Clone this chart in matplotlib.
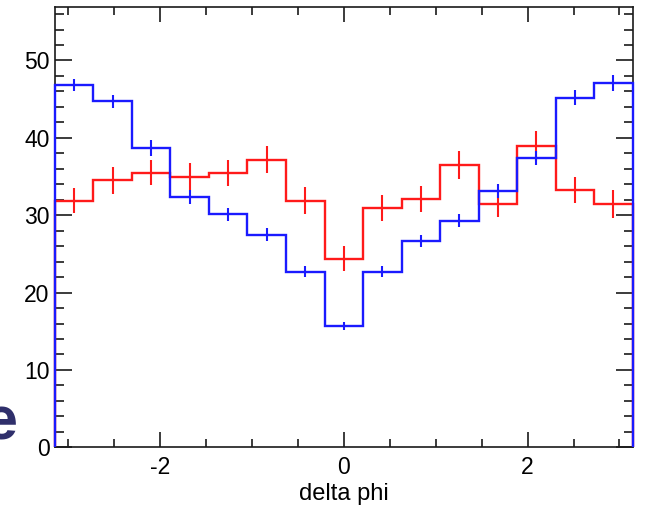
import numpy as np
import matplotlib
matplotlib.use('Agg')
import matplotlib.pyplot as plt
from matplotlib.ticker import MultipleLocator

# 15 bins from -pi to pi
edges = np.linspace(-np.pi, np.pi, 16)
centers = 0.5 * (edges[:-1] + edges[1:])

blue_vals = [46.8, 44.7, 38.7, 32.3, 30.1, 27.5, 22.7, 15.7, 22.7, 26.7, 29.3, 33.1, 37.4, 45.2, 47.1]
blue_err = [0.8, 0.8, 1.0, 0.9, 0.8, 0.8, 0.75, 0.55, 0.75, 0.8, 0.8, 0.9, 0.9, 1.0, 1.0]
red_vals = [31.9, 34.5, 35.5, 35.0, 35.5, 37.2, 31.9, 24.4, 30.9, 32.1, 36.5, 31.4, 38.9, 33.3, 31.4]
red_err = [1.65, 1.7, 1.65, 1.7, 1.7, 1.8, 1.7, 1.6, 1.7, 1.7, 1.8, 1.6, 1.95, 1.7, 1.8]

plt.rcParams['font.family'] = ['Liberation Sans', 'DejaVu Sans']
plt.rcParams['axes.unicode_minus'] = False

fig = plt.figure(figsize=(6.47, 5.08), dpi=100)
ax = fig.add_axes([0.085, 0.1195, 0.8926, 0.8665])

ax.stairs(red_vals, edges, baseline=0, color='#ff1a1a', lw=1.7, zorder=3, clip_on=False)
ax.errorbar(centers, red_vals, yerr=red_err, fmt='none', ecolor='#ff1a1a', elinewidth=1.5, capsize=0, zorder=3)
ax.stairs(blue_vals, edges, baseline=0, color='#1a1aff', lw=1.7, zorder=4, clip_on=False)
ax.errorbar(centers, blue_vals, yerr=blue_err, fmt='none', ecolor='#1a1aff', elinewidth=1.5, capsize=0, zorder=4)

ax.set_xlim(-np.pi, np.pi)
ax.set_ylim(0, 56.9)
ax.xaxis.set_major_locator(MultipleLocator(2))
ax.xaxis.set_minor_locator(MultipleLocator(0.5))
ax.yaxis.set_major_locator(MultipleLocator(10))
ax.yaxis.set_minor_locator(MultipleLocator(2))

ax.tick_params(axis='both', which='both', direction='in', top=True, right=True, width=1.2, color='#1a1a1a')
ax.tick_params(axis='x', which='major', length=11, pad=6, labelsize=16.5)
ax.tick_params(axis='x', which='minor', length=6)
ax.tick_params(axis='y', which='major', length=12, pad=4, labelsize=16.5)
ax.tick_params(axis='y', which='minor', length=6.5)

for s in ax.spines.values():
    s.set_linewidth(1.2)
    s.set_color('#1a1a1a')

ax.set_xlabel('delta phi', fontsize=17, labelpad=3)

# cut-off slide text at left
fig.text(18 / 647, (508 - 439) / 508, 'e', ha='right', va='baseline', fontsize=44,
         fontweight='bold', color='#2f2f6b')

fig.savefig('out.png', dpi=100)
